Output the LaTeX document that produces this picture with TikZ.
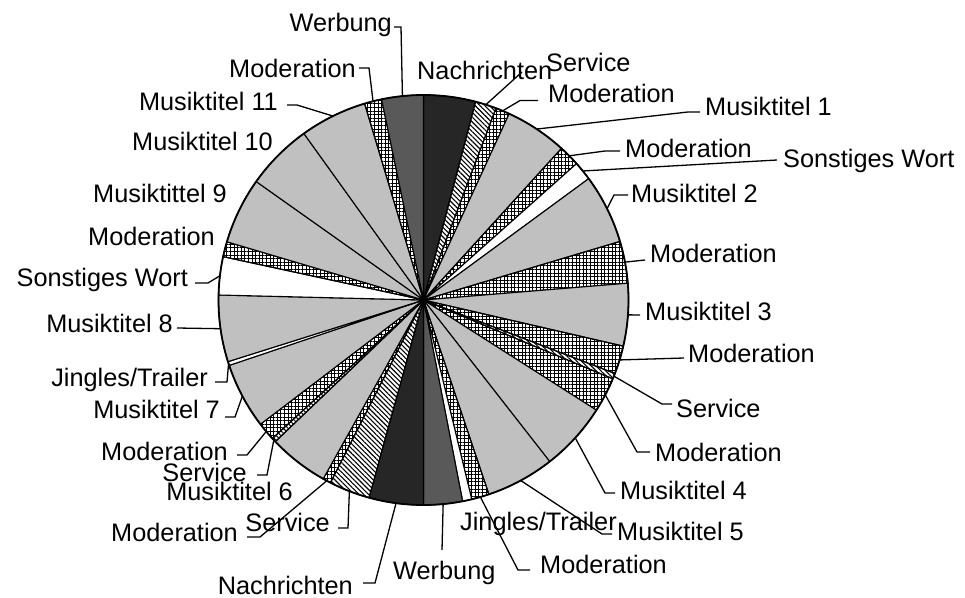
\documentclass[tikz,border=0pt]{standalone}
\usepackage{fontspec}
\setmainfont{Liberation Sans}
\usetikzlibrary{patterns.meta,calc}
\definecolor{pgray}{RGB}{192,192,192}
\definecolor{pdark}{RGB}{38,38,38}
\definecolor{pwerb}{RGB}{89,89,89}
\newcommand\midpt[2]{\coordinate (#1) at ($(c)+({#2-90}:205)$);}
\begin{document}
\begin{tikzpicture}[x=1pt,y=-1pt,
  lab/.style={inner sep=0pt, font=\fontsize{25.3}{30}\selectfont},
  ldr/.style={line width=1.3pt},
  sl/.style={line width=1.1pt, draw=black, line join=round},
  mus/.style={sl, fill=pgray},
  nach/.style={sl, fill=pdark},
  werb/.style={sl, fill=pwerb},
  wht/.style={sl, fill=white},
  modx/.style={sl, pattern={Hatch[distance=3.6pt,angle=0,line width=0.95pt]}},
  serv/.style={sl, pattern={Lines[distance=3.4pt,angle=-45,line width=1.1pt]}},
]
\useasboundingbox (0,0) rectangle (965,597);
\coordinate (c) at (423.5,300);
\foreach \a/\b/\s in {0/14.7/nach, 14.7/20.7/serv, 20.7/24.7/modx, 24.7/42.3/mus,
  42.3/48.3/modx, 48.3/53.7/wht, 53.7/73.4/mus, 73.4/85.3/modx, 85.3/103/mus,
  103/111/modx, 111/112.6/serv, 112.6/122.5/modx, 122.5/142/mus, 142/161.4/mus,
  161.4/166.4/modx, 166.4/169/wht, 169/180/werb, 180/195.4/nach, 195.4/207/serv,
  207/209.3/modx, 209.3/226.3/mus, 226.3/227.5/serv, 227.5/232.7/modx,
  232.7/251.4/mus, 251.4/252.5/wht, 252.5/271.4/mus, 271.4/282.2/wht,
  282.2/286.5/modx, 286.5/305.3/mus, 305.3/324.3/mus, 324.3/343.3/mus,
  343.3/348.2/modx, 348.2/360/werb}{
  \path[\s] (c) -- ($(c)+({\a-90}:205)$) arc[start angle={\a-90}, end angle={\b-90}, radius=205] -- cycle;
}
\draw[line width=1.8pt] (c) circle[radius=205];

% mid points of slices
\midpt{mWerbT}{354.1}
\midpt{mModTL}{345.75}
\midpt{mM11}{333.8}
\midpt{mServT}{17.7}
\midpt{mModR1}{22.7}
\midpt{mM1}{33.5}
\midpt{mModR2}{45.3}
\midpt{mSonstR}{51}
\midpt{mM2}{63.55}
\midpt{mModR3}{79.35}
\midpt{mM3}{94.15}
\midpt{mModR4}{107}
\midpt{mServR}{111.8}
\midpt{mModR5}{117.55}
\midpt{mM4}{132.25}
\midpt{mM5}{151.7}
\midpt{mModBR}{163.9}
\midpt{mWerbB}{174.5}
\midpt{mNachB}{187.7}
\midpt{mServB}{201.2}
\midpt{mModBL}{208.15}
\midpt{mServL}{226.9}
\midpt{mModL2}{230.1}
\midpt{mM7}{242.05}
\midpt{mJingL}{251.95}
\midpt{mM8}{261.95}
\midpt{mSonstL}{276.8}

% labels
\node[lab, anchor=base east] (tWerbT) at (392,31) {Werbung};
\node[lab, anchor=base east] (tModTL) at (356,77) {Moderation};
\node[lab, anchor=base east] (tM11) at (278,110) {Musiktitel 11};
\node[lab, anchor=base east] (tM10) at (273,150) {Musiktitel 10};
\node[lab, anchor=base east] (tM9) at (227,202) {Musiktittel 9};
\node[lab, anchor=base east] (tModL) at (215,245) {Moderation};
\node[lab, anchor=base east] (tSonstL) at (188,286) {Sonstiges Wort};
\node[lab, anchor=base east] (tM8) at (173,332) {Musiktitel 8};
\node[lab, anchor=base east] (tJingL) at (208,386) {Jingles/Trailer};
\node[lab, anchor=base east] (tM7) at (220,418) {Musiktitel 7};
\node[lab, anchor=base east] (tModL2) at (228,460) {Moderation};
\node[lab, anchor=base east] (tServL) at (247,481) {Service};
\node[lab, anchor=base east] (tM6) at (293,500) {Musiktitel 6};
\node[lab, anchor=base east] (tModBL) at (238,541) {Moderation};
\node[lab, anchor=base east] (tServB) at (330,531) {Service};
\node[lab, anchor=base east] (tNachB) at (353,594) {Nachrichten};
\node[lab, anchor=base west] (tWerbB) at (393,579) {Werbung};
\node[lab, anchor=base west] (tModBR) at (540,573) {Moderation};
\node[lab, anchor=base west] (tJingB) at (460,530) {Jingles/Trailer};
\node[lab, anchor=base west] (tM5) at (617,540) {Musiktitel 5};
\node[lab, anchor=base west] (tM4) at (620,499) {Musiktitel 4};
\node[lab, anchor=base west] (tModR5) at (655,461) {Moderation};
\node[lab, anchor=base west] (tServR) at (676,417) {Service};
\node[lab, anchor=base west] (tModR4) at (688,362) {Moderation};
\node[lab, anchor=base west] (tM3) at (645,320) {Musiktitel 3};
\node[lab, anchor=base west] (tModR3) at (650,262) {Moderation};
\node[lab, anchor=base west] (tM2) at (631,202) {Musiktitel 2};
\node[lab, anchor=base west] (tSonstR) at (783,167) {Sonstiges Wort};
\node[lab, anchor=base west] (tModR2) at (625,157) {Moderation};
\node[lab, anchor=base west] (tM1) at (705,115) {Musiktitel 1};
\node[lab, anchor=base west] (tModR1) at (548,102) {Moderation};
\node[lab, anchor=base west] (tNachT) at (417,79) {Nachrichten};
\node[lab, anchor=base west] (tServT) at (546,71) {Service};

% leader lines
\draw[ldr] (mWerbT) -- (401,27) coordinate (b1) -- (394,27) coordinate (e1);
\draw[ldr] (mModTL) -- (369,68) coordinate (b2) -- (359,68) coordinate (e2);
\draw[ldr] (mM11) -- (297,105) coordinate (b3) -- (287,105) coordinate (e3);
\draw[ldr] (mServT) -- (522,72) coordinate (e4);
\draw[ldr] (mModR1) -- (520,100.5) coordinate (b5) -- (538,100.5) coordinate (e5);
\draw[ldr] (mM1) -- (688,112) coordinate (b6) -- (700,112) coordinate (e6);
\draw[ldr] (mModR2) -- (605,151) coordinate (b7) -- (620,151) coordinate (e7);
\draw[ldr] (mSonstR) -- (777,160) coordinate (e8);
\draw[ldr] (mM2) -- (614,195) coordinate (b9) -- (628,195) coordinate (e9);
\draw[ldr] (mModR3) -- (645,260) coordinate (e10);
\draw[ldr] (mM3) -- (640,315) coordinate (e11);
\draw[ldr] (mModR4) -- (684,358) coordinate (e12);
\draw[ldr] (mServR) -- (662,404) coordinate (b13) -- (672,404) coordinate (e13);
\draw[ldr] (mModR5) -- (637,452) coordinate (b14) -- (650,452) coordinate (e14);
\draw[ldr] (mM4) -- (605,493) coordinate (b15) -- (615,493) coordinate (e15);
\draw[ldr] (mM5) -- (602,534) coordinate (b16) -- (612,534) coordinate (e16);
\draw[ldr] (mModBR) -- (518,570) coordinate (b17) -- (530,570) coordinate (e17);
\draw[ldr] (mWerbB) -- (442,550) coordinate (e18);
\draw[ldr] (mNachB) -- (375,583) coordinate (b19) -- (363,583) coordinate (e19);
\draw[ldr] (mServB) -- (348,528) coordinate (b20) -- (338,528) coordinate (e20);
\draw[ldr] (mModBL) -- (260,537) coordinate (b21) -- (247,537) coordinate (e21);
\draw[ldr] (mServL) -- (267,475) coordinate (b22) -- (257,475) coordinate (e22);
\draw[ldr] (mModL2) -- (247,455) coordinate (b23) -- (237,455) coordinate (e23);
\draw[ldr] (mM7) -- (235,417) coordinate (b24) -- (225,417) coordinate (e24);
\draw[ldr] (mJingL) -- (227,382) coordinate (b25) -- (215,382) coordinate (e25);
\draw[ldr] (mM8) -- (177,328) coordinate (e26);
\draw[ldr] (mSonstL) -- (208,283) coordinate (b27) -- (195,283) coordinate (e27);
\end{tikzpicture}
\end{document}
